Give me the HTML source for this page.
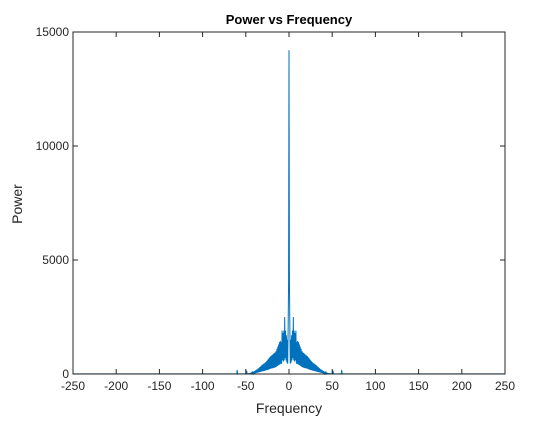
<!DOCTYPE html>
<html><head><meta charset="utf-8"><style>
html,body{margin:0;padding:0;background:#fff;}
svg text{font-family:"Liberation Sans",Arial,sans-serif;}
</style></head><body>
<svg id="chart" width="560" height="420" viewBox="0 0 560 420">
<rect width="560" height="420" fill="#fff"/>
<text x="289" y="24" text-anchor="middle" font-size="13" font-weight="bold" fill="#000">Power vs Frequency</text>
<text x="289" y="413" text-anchor="middle" font-size="14" fill="#262626">Frequency</text>
<text x="22" y="204" text-anchor="middle" font-size="14" fill="#262626" transform="rotate(-90 22 204)">Power</text>
<g id="plot"></g>
<g id="axes"></g>
</svg>
<script>
const xTicks=[-250,-200,-150,-100,-50,0,50,100,150,200,250];
const yTicks=[0,5000,10000,15000];
const coreStart=-45;
const coreStep=0.5;
const corePower=[20,5,40,10,60,15,80,20,100,25,130,30,150,40,180,50,200,60,230,70,
260,80,300,90,330,100,370,110,400,120,430,130,460,140,480,150,520,160,560,170,
600,180,650,200,700,210,750,230,790,240,820,250,850,260,880,270,920,280,950,300,
1000,320,1100,350,1200,380,1300,400,1400,420,1450,450,1400,450,1900,600,1800,550,
1900,600,2500,700,1900,600,1700,500,1500,450,2000,4000,
14200,
4000,2000,450,1500,500,1700,600,1900,700,2500,600,1900,550,1800,600,1900,450,1400,
450,1450,420,1400,400,1300,380,1200,350,1100,320,1000,300,950,280,920,270,880,260,850,
250,820,240,790,230,750,210,700,200,650,180,600,170,560,160,520,150,480,140,460,130,430,
120,400,110,370,100,330,90,300,80,260,70,230,60,200,50,180,40,150,30,130,25,100,20,80,
15,60,10,40,5,20];
const spikeFreq=[-60,-49,51,61];
const spikePower=[180,150,150,180];
const L=73,R=505,T=32,B=374;
const xs=v=>L+(v+250)/500*(R-L);
const ys=v=>B-v/15000*(B-T);
const NS="http://www.w3.org/2000/svg";
function mk(tag,at,parent){const e=document.createElementNS(NS,tag);for(const k in at)e.setAttribute(k,at[k]);parent.appendChild(e);return e;}
const plot=document.getElementById('plot'),axes=document.getElementById('axes');
let pts=[[-250,5],[250,5]];
spikeFreq.forEach((f,i)=>{pts.push([f-0.5,5],[f,spikePower[i]],[f+0.5,5]);});
corePower.forEach((p,i)=>pts.push([coreStart+i*coreStep,p]));
pts.sort((a,b)=>a[0]-b[0]);
const line=mk('polyline',{points:pts.map(p=>xs(p[0]).toFixed(2)+','+ys(p[1]).toFixed(2)).join(' '),fill:'none',stroke:'#0072BD','stroke-width':1},plot);


const box=mk('rect',{x:L,y:T,width:R-L,height:B-T,fill:'none',stroke:'#262626','stroke-width':1},axes);


xTicks.forEach(t=>{const x=xs(t);
mk('line',{x1:x,x2:x,y1:B,y2:B-5,stroke:'#262626'},axes);
mk('line',{x1:x,x2:x,y1:T,y2:T+5,stroke:'#262626'},axes);
const tx=mk('text',{x:x,y:B+16,'text-anchor':'middle','font-size':12,fill:'#262626'},axes);tx.textContent=t;

});
yTicks.forEach(t=>{const y=ys(t);
mk('line',{x1:L,x2:L+5,y1:y,y2:y,stroke:'#262626'},axes);
mk('line',{x1:R,x2:R-5,y1:y,y2:y,stroke:'#262626'},axes);
const tx=mk('text',{x:L-4,y:y+4,'text-anchor':'end','font-size':12,fill:'#262626'},axes);tx.textContent=t;

});
</script>
</body></html>
